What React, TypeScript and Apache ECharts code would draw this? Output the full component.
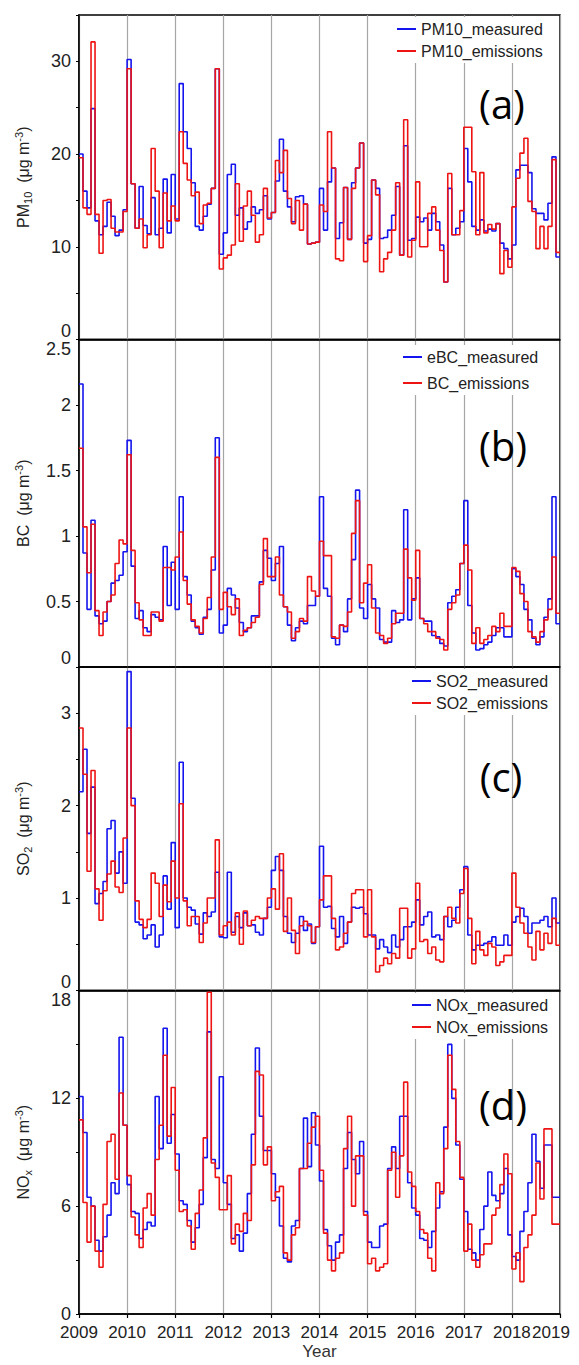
import React, { useEffect, useRef } from "react";
import * as echarts from "echarts";

// ---- Data (monthly, Jan 2009 – Dec 2018) ----
const years = ["2009", "2010", "2011", "2012", "2013", "2014", "2015", "2016", "2017", "2018", "2019"];

const pm10Measured = [
  20.0, 16.0, 14.2, 24.9, 12.8, 11.3, 12.2, 14.8, 13.3, 11.2, 11.8, 14.0,
  30.2, 16.8, 12.0, 16.5, 12.3, 11.4, 15.3, 11.3, 12.0, 17.3, 11.5, 17.8,
  13.0, 27.6, 22.4, 20.6, 16.9, 12.2, 11.8, 13.3, 14.6, 16.3, 29.2, 9.2,
  11.5, 17.8, 18.9, 13.4, 14.2, 11.9, 12.7, 14.3, 13.6, 14.0, 15.5, 13.0,
  13.7, 17.1, 21.6, 16.0, 14.3, 12.7, 15.4, 15.5, 14.6, 10.3, 10.4, 10.5,
  16.3, 11.8, 17.0, 18.5, 10.9, 12.6, 16.4, 10.8, 16.9, 18.5, 21.2, 10.4,
  10.8, 17.2, 16.3, 10.9, 11.0, 11.8, 13.4, 16.5, 9.1, 20.9, 10.7, 10.9,
  13.2, 12.7, 13.1, 11.8, 13.6, 12.7, 10.2, 6.2, 16.3, 11.3, 12.0, 12.7,
  20.6, 17.0, 12.2, 11.8, 12.9, 11.7, 11.9, 11.7, 12.5, 10.4, 9.8, 8.7,
  10.2, 18.3, 18.8, 18.8, 18.0, 14.1, 13.6, 13.6, 12.9, 14.7, 19.7, 8.9,
];
const pm10Emissions = [
  19.6, 14.2, 13.5, 32.1, 13.5, 9.3, 15.0, 15.1, 12.0, 11.6, 11.6, 13.8,
  29.2, 16.8, 12.0, 13.0, 9.9, 11.3, 20.6, 16.0, 9.9, 15.8, 12.8, 14.4,
  12.8, 22.4, 19.0, 17.2, 15.5, 15.9, 12.5, 14.5, 14.7, 16.3, 29.2, 7.6,
  8.8, 9.1, 10.2, 16.8, 10.6, 14.4, 16.0, 13.4, 10.5, 11.3, 16.3, 13.1,
  13.7, 19.3, 18.0, 20.4, 15.2, 12.5, 15.0, 11.8, 14.6, 10.3, 10.4, 10.5,
  14.5, 13.8, 22.4, 18.5, 8.7, 8.5, 16.4, 10.8, 16.3, 18.5, 21.2, 8.4,
  11.2, 17.2, 15.6, 7.3, 8.7, 9.4, 11.8, 16.9, 9.1, 23.7, 8.9, 10.7,
  17.0, 10.0, 10.0, 13.6, 14.3, 11.8, 9.6, 6.2, 17.9, 11.3, 11.3, 13.9,
  22.9, 22.9, 18.1, 11.3, 18.0, 11.5, 12.4, 11.9, 12.5, 7.1, 9.6, 7.8,
  14.3, 17.4, 20.1, 21.7, 14.9, 13.8, 9.8, 12.2, 9.8, 12.2, 19.4, 9.4,
];

const bcMeasured = [
  2.16, 0.87, 0.44, 1.12, 0.39, 0.33, 0.35, 0.5, 0.64, 0.66, 0.7, 0.88,
  1.73, 0.77, 0.37, 0.43, 0.3, 0.27, 0.4, 0.38, 0.36, 0.92, 0.47, 0.8,
  0.44, 1.3, 0.69, 0.55, 0.35, 0.3, 0.25, 0.38, 0.44, 0.74, 1.75, 0.26,
  0.32, 0.6, 0.55, 0.45, 0.34, 0.27, 0.3, 0.39, 0.39, 0.65, 0.89, 0.83,
  0.66, 0.79, 0.92, 0.46, 0.32, 0.2, 0.3, 0.35, 0.33, 0.47, 0.47, 0.54,
  1.3, 0.6, 0.54, 0.22, 0.17, 0.32, 0.27, 0.52, 0.82, 1.35, 0.45, 0.37,
  0.63, 0.52, 0.45, 0.21, 0.19, 0.19, 0.43, 0.34, 0.36, 1.2, 0.36, 0.52,
  0.68, 0.37, 0.35, 0.35, 0.24, 0.23, 0.18, 0.16, 0.49, 0.54, 0.59, 0.79,
  1.27, 0.47, 0.26, 0.13, 0.14, 0.17, 0.19, 0.24, 0.3, 0.3, 0.23, 0.23,
  0.75, 0.69, 0.63, 0.44, 0.36, 0.22, 0.17, 0.23, 0.38, 0.52, 1.3, 0.33,
];
const bcEmissions = [
  1.67, 1.07, 0.72, 1.09, 0.43, 0.24, 0.42, 0.5, 0.55, 0.79, 0.97, 0.94,
  1.62, 0.89, 0.49, 0.36, 0.24, 0.24, 0.42, 0.42, 0.35, 0.76, 0.76, 0.74,
  0.84, 1.03, 0.66, 0.48, 0.36, 0.31, 0.26, 0.37, 0.53, 0.84, 1.6, 0.44,
  0.57, 0.46, 0.4, 0.52, 0.24, 0.28, 0.3, 0.34, 0.38, 0.63, 0.98, 0.69,
  0.69, 0.84, 0.55, 0.46, 0.42, 0.22, 0.27, 0.37, 0.35, 0.69, 0.58, 0.54,
  0.96, 0.85, 0.85, 0.23, 0.22, 0.32, 0.31, 0.42, 1.02, 1.27, 0.49, 0.64,
  0.78, 0.45, 0.26, 0.24, 0.18, 0.22, 0.33, 0.41, 0.41, 0.9, 0.68, 0.51,
  0.89, 0.37, 0.33, 0.27, 0.27, 0.22, 0.21, 0.13, 0.44, 0.49, 0.55, 0.79,
  0.93, 0.74, 0.18, 0.3, 0.18, 0.21, 0.24, 0.31, 0.27, 0.41, 0.31, 0.31,
  0.76, 0.73, 0.56, 0.5, 0.27, 0.23, 0.19, 0.27, 0.36, 0.44, 0.84, 0.41,
];

const so2Measured = [
  2.15, 2.61, 1.7, 2.2, 0.94, 1.05, 1.18, 1.75, 1.84, 1.27, 1.5, 1.16,
  3.45, 2.08, 0.74, 0.71, 0.56, 0.6, 0.71, 0.47, 0.6, 1.24, 0.88, 1.6,
  0.68, 2.47, 1.0, 0.9, 0.87, 0.72, 0.61, 0.84, 0.8, 0.85, 1.28, 0.58,
  0.57, 1.28, 0.63, 0.8, 0.68, 0.84, 0.7, 0.71, 0.63, 0.6, 0.78, 0.9,
  1.3, 1.45, 1.3, 0.8, 0.62, 0.52, 0.62, 0.8, 0.65, 0.72, 0.51, 0.69,
  1.56, 0.9, 0.91, 0.67, 0.58, 0.8, 0.51, 0.74, 0.9, 0.89, 0.9, 0.83,
  0.6, 0.6, 0.45, 0.55, 0.47, 0.41, 0.6, 0.47, 0.55, 0.69, 0.69, 0.74,
  0.98, 0.71, 0.8, 0.85, 0.58, 0.6, 0.55, 0.8, 0.69, 0.76, 0.9, 1.09,
  1.34, 0.6, 0.44, 0.49, 0.49, 0.51, 0.53, 0.58, 0.49, 0.49, 0.6, 0.49,
  0.74, 0.8, 0.89, 0.8, 0.62, 0.73, 0.73, 0.76, 0.8, 0.69, 1.0, 0.73,
];
const so2Emissions = [
  2.84, 2.34, 1.29, 2.38, 1.1, 0.76, 1.08, 1.26, 1.4, 1.12, 1.06, 1.65,
  2.84, 2.0, 0.97, 0.77, 0.68, 0.77, 1.27, 1.16, 0.8, 1.14, 0.96, 1.4,
  1.0, 2.02, 0.97, 0.7, 0.8, 0.8, 0.52, 0.73, 1.0, 1.0, 1.63, 0.6,
  0.7, 0.74, 0.6, 0.84, 0.5, 0.86, 0.7, 0.76, 0.8, 0.78, 0.78, 1.0,
  1.1, 0.88, 1.48, 0.64, 1.0, 0.65, 0.4, 0.7, 0.75, 0.7, 0.52, 0.69,
  0.98, 1.24, 1.24, 0.78, 0.44, 0.47, 0.62, 0.74, 1.05, 1.09, 1.09, 0.58,
  1.09, 0.58, 0.2, 0.27, 0.35, 0.29, 0.4, 0.35, 0.89, 0.89, 0.35, 0.45,
  1.16, 0.53, 0.55, 0.4, 0.47, 0.33, 0.31, 0.8, 0.9, 0.78, 0.73, 1.05,
  1.32, 0.78, 0.29, 0.64, 0.44, 0.38, 0.51, 0.47, 0.27, 0.31, 0.38, 0.38,
  1.27, 0.9, 0.73, 0.62, 0.47, 0.33, 0.64, 0.44, 0.62, 0.51, 0.78, 0.49,
];

const noxMeasured = [
  12.1, 10.1, 6.5, 6.0, 4.1, 3.5, 4.3, 5.5, 7.3, 6.7, 15.4, 10.5,
  7.2, 5.7, 5.6, 4.2, 4.7, 5.1, 4.9, 12.1, 9.2, 15.9, 9.5, 11.1,
  8.9, 6.3, 6.1, 5.2, 4.0, 4.8, 6.1, 8.7, 15.7, 8.6, 8.1, 13.2,
  7.3, 6.1, 4.2, 4.4, 3.5, 4.5, 6.7, 10.0, 14.8, 11.0, 9.1, 9.1,
  7.8, 6.5, 4.9, 3.1, 2.9, 4.9, 5.2, 8.1, 10.9, 8.2, 11.2, 9.4,
  7.4, 4.7, 3.8, 3.0, 4.0, 4.4, 8.1, 10.1, 8.6, 7.8, 9.6, 5.7,
  4.0, 3.7, 3.7, 4.9, 5.0, 8.1, 9.3, 8.1, 11.0, 11.0, 7.3, 5.9,
  5.5, 4.2, 4.1, 3.7, 4.6, 5.9, 6.8, 10.4, 15.0, 12.0, 9.4, 7.5,
  5.7, 3.6, 3.4, 3.0, 4.7, 6.0, 7.9, 6.6, 6.3, 6.7, 8.1, 4.4,
  3.2, 3.0, 4.6, 5.7, 7.3, 10.0, 8.5, 7.0, 9.4, 9.4, 6.5, 6.5,
];
const noxEmissions = [
  10.8, 6.2, 4.0, 6.0, 3.5, 2.6, 6.1, 9.6, 10.0, 7.5, 12.3, 10.5,
  7.7, 5.4, 4.4, 3.7, 5.9, 6.7, 5.5, 8.6, 10.5, 14.4, 9.9, 12.6,
  8.0, 5.7, 5.8, 4.9, 3.6, 5.6, 6.9, 9.8, 17.9, 8.4, 7.6, 5.8,
  5.8, 7.7, 3.9, 5.0, 4.6, 5.6, 5.2, 8.3, 13.5, 13.3, 8.3, 9.3,
  6.3, 6.8, 7.1, 3.4, 3.0, 4.4, 4.8, 8.1, 8.1, 9.5, 10.4, 11.0,
  8.0, 4.5, 3.0, 2.4, 3.1, 3.4, 9.2, 11.0, 6.0, 8.8, 8.8, 5.5,
  2.8, 3.1, 2.4, 2.6, 2.8, 8.0, 9.0, 6.5, 8.8, 12.9, 7.9, 7.1,
  5.7, 4.7, 4.5, 3.1, 2.4, 7.3, 6.7, 9.2, 14.4, 12.5, 9.6, 7.6,
  3.5, 5.0, 3.0, 2.6, 3.3, 3.9, 3.9, 5.5, 5.9, 7.2, 8.9, 7.8,
  2.5, 3.4, 1.8, 3.7, 4.4, 5.5, 8.4, 6.4, 10.3, 10.3, 5.0, 5.0,
];

const seriesNames = [
  ["PM10_measured", "PM10_emissions"],
  ["eBC_measured", "BC_emissions"],
  ["SO2_measured", "SO2_emissions"],
  ["NOx_measured", "NOx_emissions"],
];
const panelLabels = ["(a)", "(b)", "(c)", "(d)"];

const FONT = "'Liberation Sans', Arial, Helvetica, sans-serif";
const BLUE = "#1414ee";
const RED = "#ee1414";
const TEXT = "#222";

const toStep = (arr: number[]) => {
  const d: number[][] = arr.map((v, i) => [i, v]);
  d.push([arr.length, arr[arr.length - 1]]);
  return d;
};

export default function App() {
  const ref = useRef<HTMLDivElement>(null);

  useEffect(() => {
    if (!ref.current) return;
    const chart = echarts.init(ref.current, null, { renderer: "svg" });

    const grids = [
      { top: 15, bottom: 339.5 },
      { top: 339.5, bottom: 667 },
      { top: 667, bottom: 990.5 },
      { top: 990.5, bottom: 1314 },
    ];
    const yCfg = [
      { max: 35, interval: 5, fmt: (v: number) => (v % 10 === 0 ? String(v) : ""), minBottom: true, maxTop: false },
      { max: 2.5, interval: 0.5, fmt: (v: number) => String(v), minBottom: true, maxTop: true },
      { max: 3.5, interval: 0.5, fmt: (v: number) => (Number.isInteger(v) ? String(v) : ""), minBottom: true, maxTop: false },
      { max: 18, interval: 3, fmt: (v: number) => (v % 6 === 0 ? String(v) : ""), minBottom: false, maxTop: true },
    ];
    const yNames = [
      "{n|PM}{sub|10}{n|  (μg m}{sup|-3}{n|)}",
      "{n|BC  (μg m}{sup|-3}{n|)}",
      "{n|SO}{sub|2}{n|  (μg m}{sup|-3}{n|)}",
      "{n|NO}{sub|x}{n|  (μg m}{sup|-3}{n|)}",
    ];
    const legendPos = [
      { left: 395, top: 17, gap: 2 },
      { left: 401, top: 345, gap: 6 },
      { left: 410, top: 669, gap: 2 },
      { left: 410, top: 993, gap: 2 },
    ];
    const labelPos = [
      [502, 103],
      [503, 445],
      [501, 776],
      [503, 1104],
    ];
    const dataSets = [
      [pm10Measured, pm10Emissions],
      [bcMeasured, bcEmissions],
      [so2Measured, so2Emissions],
      [noxMeasured, noxEmissions],
    ];

    const richName = {
      n: { fontSize: 16, lineHeight: 20, color: TEXT, fontFamily: FONT },
      sub: { fontSize: 11, lineHeight: 11, verticalAlign: "bottom", color: TEXT, fontFamily: FONT },
      sup: { fontSize: 11, lineHeight: 11, verticalAlign: "top", color: TEXT, fontFamily: FONT },
    };

    const option: any = {
      animation: false,
      backgroundColor: "#fff",
      grid: grids.map((g) => ({
        left: 79,
        right: 19,
        top: g.top,
        height: g.bottom - g.top,
        show: true,
        borderColor: "#000",
        borderWidth: 1.5,
        backgroundColor: "transparent",
        containLabel: false,
        outerBoundsMode: "none",
      })),
      xAxis: grids.map((_, k) => ({
        type: "value",
        gridIndex: k,
        min: 0,
        max: 120,
        interval: 12,
        axisLine: { show: true, lineStyle: { color: "#000", width: 1.5 } },
        axisTick: { show: k === 3, length: 4, lineStyle: { color: "#000", width: 1.2 } },
        axisLabel: {
          show: k === 3,
          fontSize: 17,
          fontFamily: FONT,
          color: TEXT,
          margin: 10,
          formatter: (v: number) => {
            const y = years[Math.round(v / 12)];
            return v === 120 ? "{r|" + y + "}" : y;
          },
          rich: { r: { fontSize: 17, fontFamily: FONT, color: TEXT, padding: [0, 18, 0, 0] } },
        },
        splitLine: { show: true, lineStyle: { color: "#a6a6a6", width: 1.2 } },
        name: k === 3 ? "Year" : "",
        nameLocation: "middle",
        nameGap: 29,
        nameTextStyle: { fontSize: 17, fontFamily: FONT, color: "#333" },
      })),
      yAxis: grids.map((_, k) => ({
        type: "value",
        gridIndex: k,
        min: 0,
        max: yCfg[k].max,
        interval: yCfg[k].interval,
        axisLine: { show: true, lineStyle: { color: "#000", width: 1.5 } },
        axisTick: { show: true, length: 3, lineStyle: { color: "#000", width: 1 } },
        axisLabel: {
          fontSize: 18,
          fontFamily: FONT,
          color: TEXT,
          margin: 8,
          formatter: yCfg[k].fmt,
          ...(yCfg[k].minBottom ? { verticalAlignMinLabel: "bottom" } : {}),
          ...(yCfg[k].maxTop ? { verticalAlignMaxLabel: "top" } : {}),
        },
        splitLine: { show: false },
        name: yNames[k],
        nameLocation: "middle",
        nameGap: 46,
        nameRotate: 90,
        nameTextStyle: { rich: richName, fontSize: 16, fontFamily: FONT, color: TEXT },
      })),
      legend: grids.map((_, k) => ({
        data: seriesNames[k],
        orient: "vertical",
        left: legendPos[k].left,
        top: legendPos[k].top,
        itemGap: legendPos[k].gap,
        icon: "rect",
        itemWidth: 19,
        itemHeight: 2,
        padding: [2, 4, 2, 2],
        backgroundColor: "#fff",
        textStyle: { fontSize: 16, fontFamily: FONT, color: TEXT, lineHeight: 20 },
        selectedMode: false,
      })),
      series: dataSets.flatMap((pair, k) => [
        {
          name: seriesNames[k][0],
          type: "line",
          xAxisIndex: k,
          yAxisIndex: k,
          step: "end",
          symbol: "none",
          data: toStep(pair[0]),
          lineStyle: { color: BLUE, width: 1.6 },
          itemStyle: { color: BLUE },
          z: 3,
        },
        {
          name: seriesNames[k][1],
          type: "line",
          xAxisIndex: k,
          yAxisIndex: k,
          step: "end",
          symbol: "none",
          data: toStep(pair[1]),
          lineStyle: { color: RED, width: 1.6 },
          itemStyle: { color: RED },
          z: 4,
        },
      ]),
      graphic: panelLabels.map((t, k) => ({
        type: "text",
        x: labelPos[k][0],
        y: labelPos[k][1],
        z: 10,
        style: {
          text: t,
          fontSize: 40,
          fontFamily: "'Open Sans', 'Noto Sans', sans-serif",
          fill: "#000",
          align: "center",
          verticalAlign: "middle",
        },
      })),
    };

    chart.setOption(option);
    return () => chart.dispose();
  }, []);

  return (
    <div
      ref={ref}
      style={{ position: "absolute", left: 0, top: 0, width: 579, height: 1365, background: "#fff" }}
    />
  );
}
